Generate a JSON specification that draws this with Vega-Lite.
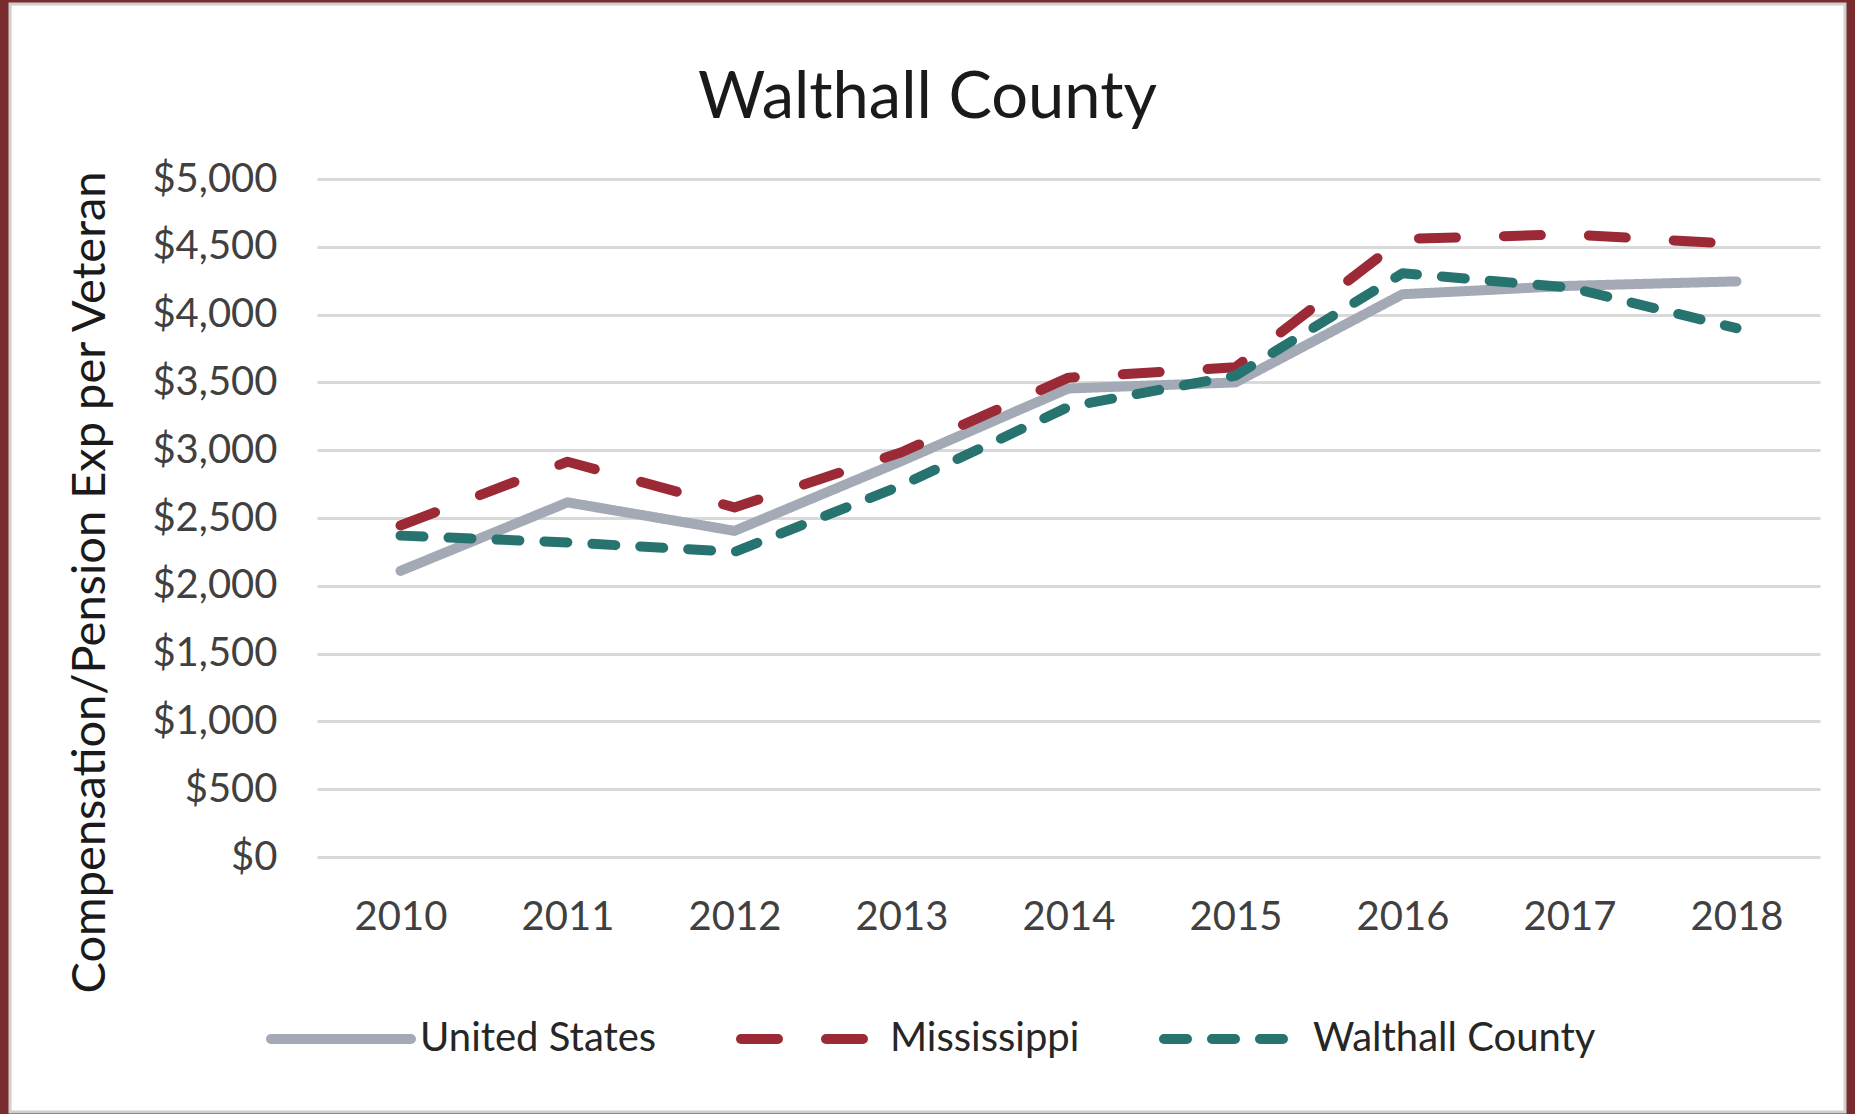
{
  "$schema": "https://vega.github.io/schema/vega-lite/v6.json",
  "width": 1835,
  "height": 1108,
  "autosize": {"type": "none"},
  "padding": {"left": 10, "top": 4, "right": 10, "bottom": 2},
  "background": "#7a2b2e",
  "config": {
    "view": {"fill": "white", "stroke": "#cfcfcf", "strokeWidth": 3},
    "font": "Lato"
  },
  "title": {
    "text": "Walthall County",
    "fontSize": 65,
    "font": "Lato",
    "fontWeight": "normal",
    "color": "#1a1a1a",
    "anchor": "middle",
    "frame": "group",
    "offset": -128
  },
  "data": {
    "values": [
      {"year": "2010", "series": "United States", "value": 2110},
      {"year": "2011", "series": "United States", "value": 2615},
      {"year": "2012", "series": "United States", "value": 2405},
      {"year": "2013", "series": "United States", "value": 2920},
      {"year": "2014", "series": "United States", "value": 3455},
      {"year": "2015", "series": "United States", "value": 3500},
      {"year": "2016", "series": "United States", "value": 4150},
      {"year": "2017", "series": "United States", "value": 4212},
      {"year": "2018", "series": "United States", "value": 4245},
      {"year": "2010", "series": "Mississippi", "value": 2445},
      {"year": "2011", "series": "Mississippi", "value": 2915},
      {"year": "2012", "series": "Mississippi", "value": 2578},
      {"year": "2013", "series": "Mississippi", "value": 2985},
      {"year": "2014", "series": "Mississippi", "value": 3535},
      {"year": "2015", "series": "Mississippi", "value": 3612},
      {"year": "2016", "series": "Mississippi", "value": 4558},
      {"year": "2017", "series": "Mississippi", "value": 4592},
      {"year": "2018", "series": "Mississippi", "value": 4520},
      {"year": "2010", "series": "Walthall County", "value": 2370},
      {"year": "2011", "series": "Walthall County", "value": 2320},
      {"year": "2012", "series": "Walthall County", "value": 2250},
      {"year": "2013", "series": "Walthall County", "value": 2740},
      {"year": "2014", "series": "Walthall County", "value": 3320},
      {"year": "2015", "series": "Walthall County", "value": 3550},
      {"year": "2016", "series": "Walthall County", "value": 4305},
      {"year": "2017", "series": "Walthall County", "value": 4200},
      {"year": "2018", "series": "Walthall County", "value": 3900}
    ]
  },
  "mark": {"type": "line", "strokeWidth": 10, "strokeCap": "round", "strokeJoin": "round"},
  "encoding": {
    "x": {
      "field": "year",
      "type": "ordinal",
      "scale": {"type": "point", "padding": 0.5, "range": [307, 1810]},
      "axis": {
        "title": null,
        "orient": "bottom",
        "offset": -255,
        "domain": false,
        "ticks": false,
        "tickSize": 0,
        "grid": false,
        "labelPadding": 40,
        "labelFontSize": 40,
        "labelColor": "#404040",
        "labelAngle": 0
      }
    },
    "y": {
      "field": "value",
      "type": "quantitative",
      "scale": {"domain": [0, 5000], "nice": false, "zero": true, "range": [853, 175]},
      "axis": {
        "title": "Compensation/Pension Exp per Veteran",
        "values": [0, 500, 1000, 1500, 2000, 2500, 3000, 3500, 4000, 4500, 5000],
        "format": "$,.0f",
        "offset": -267,
        "domain": false,
        "ticks": false,
        "tickSize": 0,
        "labelPadding": 0,
        "labelFontSize": 40,
        "labelColor": "#404040",
        "labelLimit": 400,
        "gridColor": "#d9d9d9",
        "gridWidth": 3,
        "titleFontSize": 47,
        "titleFontWeight": "normal",
        "titleColor": "#1a1a1a",
        "titleX": -187,
        "titleY": 578,
        "titleAngle": 270,
        "titleAlign": "center",
        "titleBaseline": "middle",
        "titleLimit": 2000
      }
    },
    "color": {
      "field": "series",
      "type": "nominal",
      "sort": ["United States", "Mississippi", "Walthall County"],
      "scale": {
        "domain": ["United States", "Mississippi", "Walthall County"],
        "range": ["#a3aab5", "#9b2a36", "#267370"]
      },
      "legend": {
        "title": null,
        "orient": "none",
        "legendX": 256,
        "legendY": 960,
        "direction": "horizontal",
        "symbolType": "stroke",
        "symbolSize": 19600,
        "symbolStrokeWidth": 10,
        "labelFontSize": 40,
        "labelColor": "#262626",
        "labelOffset": 4,
        "labelLimit": 1000,
        "columnPadding": 64,
        "padding": 0,
        "encode": {"symbols": {"update": {"strokeCap": {"value": "round"}}}}
      }
    },
    "strokeDash": {
      "field": "series",
      "type": "nominal",
      "sort": ["United States", "Mississippi", "Walthall County"],
      "scale": {
        "domain": ["United States", "Mississippi", "Walthall County"],
        "range": [[1, 0], [37, 48], [23, 25]]
      },
      "legend": {
        "title": null,
        "orient": "none",
        "legendX": 256,
        "legendY": 960,
        "direction": "horizontal",
        "symbolType": "stroke",
        "symbolSize": 19600,
        "symbolStrokeWidth": 10,
        "labelFontSize": 40,
        "labelColor": "#262626",
        "labelOffset": 4,
        "labelLimit": 1000,
        "columnPadding": 64,
        "padding": 0,
        "encode": {"symbols": {"update": {"strokeCap": {"value": "round"}}}}
      }
    }
  }
}
